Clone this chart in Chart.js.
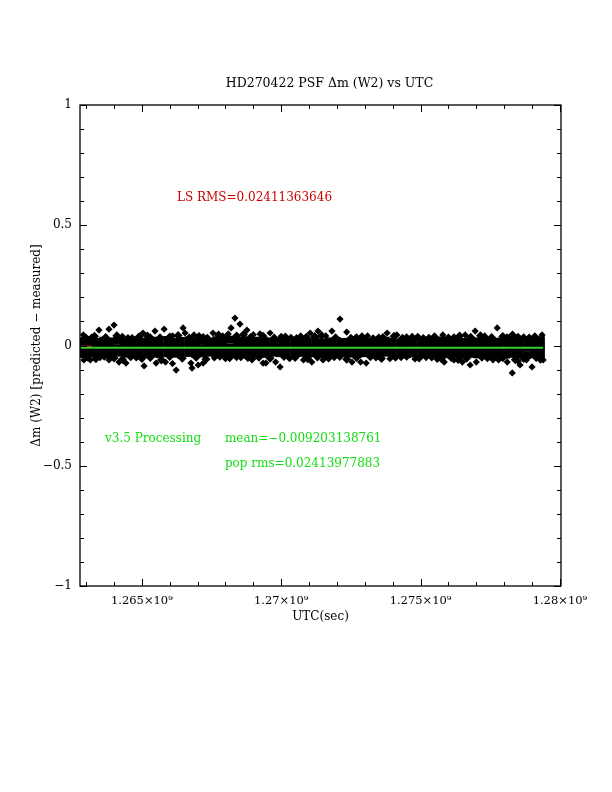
<!DOCTYPE html>
<html>
<head>
<title>HD270422 PSF dm (W2) vs UTC</title>
<style>
  html, body { margin: 0; padding: 0; background: #fff; }
</style>
</head>
<body>
<canvas id="chart" width="612" height="792"></canvas>
<script src="https://cdn.jsdelivr.net/npm/chart.js@4"></script>
<script>

// UTC values are in units of 1e6 seconds, dm in magnitudes

// dense band of points, sampled as three rows
const coreUtc = [
  1262.86, 1263.11, 1263.37, 1263.62, 1263.86, 1264.12, 1264.39, 1264.63, 1264.88, 1265.15, 1265.39,
  1265.64, 1265.91, 1266.15, 1266.40, 1266.67, 1266.91, 1267.16, 1267.43, 1267.67, 1267.92, 1268.19,
  1268.43, 1268.68, 1268.95, 1269.19, 1269.44, 1269.71, 1269.95, 1270.20, 1270.47, 1270.71, 1270.96,
  1271.23, 1271.47, 1271.72, 1271.99, 1272.23, 1272.48, 1272.75, 1272.99, 1273.24, 1273.51, 1273.75,
  1274.00, 1274.27, 1274.51, 1274.76, 1275.03, 1275.27, 1275.52, 1275.79, 1276.03, 1276.28, 1276.55,
  1276.79, 1277.04, 1277.31, 1277.55, 1277.80, 1278.07, 1278.31, 1278.56, 1278.83, 1279.07, 1279.32
];
const coreHigh = [
  0.018, 0.022, 0.015, 0.020, 0.017, 0.021, 0.014, 0.019, 0.022, 0.016, 0.020,
  0.018, 0.023, 0.015, 0.019, 0.021, 0.017, 0.020, 0.016, 0.022, 0.018, 0.024,
  0.019, 0.021, 0.016, 0.020, 0.018, 0.015, 0.019, 0.017, 0.014, 0.018, 0.016,
  0.020, 0.013, 0.017, 0.019, 0.015, 0.012, 0.016, 0.018, 0.014, 0.017, 0.020,
  0.015, 0.013, 0.016, 0.019, 0.017, 0.014, 0.018, 0.021, 0.016, 0.019, 0.015,
  0.020, 0.017, 0.022, 0.018, 0.016, 0.019, 0.021, 0.017, 0.020, 0.018, 0.022
];
const coreMid = [
  -0.007, -0.010, -0.006, -0.009, -0.008, -0.011, -0.007, -0.009, -0.006, -0.010, -0.008,
  -0.009, -0.007, -0.010, -0.008, -0.006, -0.009, -0.011, -0.008, -0.007, -0.010, -0.009,
  -0.006, -0.008, -0.010, -0.007, -0.009, -0.008, -0.011, -0.006, -0.009, -0.007, -0.010,
  -0.008, -0.009, -0.006, -0.010, -0.008, -0.007, -0.011, -0.009, -0.006, -0.008, -0.010,
  -0.007, -0.009, -0.008, -0.011, -0.006, -0.010, -0.008, -0.007, -0.009, -0.011, -0.008,
  -0.010, -0.007, -0.009, -0.008, -0.011, -0.006, -0.009, -0.010, -0.008, -0.007, -0.009
];
const coreLow = [
  -0.035, -0.031, -0.038, -0.033, -0.036, -0.030, -0.034, -0.037, -0.032, -0.035, -0.033,
  -0.036, -0.032, -0.034, -0.038, -0.031, -0.035, -0.033, -0.030, -0.036, -0.034, -0.032,
  -0.034, -0.037, -0.031, -0.033, -0.035, -0.030, -0.032, -0.036, -0.033, -0.031, -0.034,
  -0.032, -0.035, -0.030, -0.033, -0.031, -0.034, -0.036, -0.032, -0.035, -0.033, -0.030,
  -0.034, -0.031, -0.036, -0.033, -0.035, -0.032, -0.037, -0.034, -0.036, -0.033, -0.038,
  -0.035, -0.037, -0.034, -0.039, -0.036, -0.038, -0.035, -0.037, -0.040, -0.036, -0.038
];

// ragged upper and lower edges of the band
const edgeHighUtc = [
  1263.00, 1263.30, 1263.70, 1264.10, 1264.50, 1264.90, 1265.20, 1265.65, 1266.00, 1266.30, 1266.70,
  1267.05, 1267.35, 1267.75, 1268.05, 1268.40, 1268.65, 1268.90, 1269.35, 1269.75, 1270.15, 1270.55,
  1270.90, 1271.20, 1271.45, 1271.95, 1272.50, 1272.90, 1273.30, 1273.65, 1274.05, 1274.35, 1274.70,
  1275.10, 1275.50, 1276.00, 1276.40, 1276.80, 1277.15, 1277.55, 1277.95, 1278.30, 1278.70, 1279.10
];
const edgeHighDm = [
  0.030, 0.038, 0.033, 0.041, 0.029, 0.036, 0.040, 0.032, 0.035, 0.042, 0.031,
  0.037, 0.030, 0.044, 0.036, 0.040, 0.046, 0.033, 0.038, 0.031, 0.035, 0.029,
  0.034, 0.037, 0.042, 0.032, 0.030, 0.036, 0.028, 0.033, 0.038, 0.030, 0.034,
  0.029, 0.036, 0.031, 0.039, 0.034, 0.041, 0.033, 0.037, 0.044, 0.032, 0.036
];
const edgeLowUtc = [
  1263.05, 1263.35, 1263.65, 1264.00, 1264.30, 1264.60, 1265.00, 1265.30, 1265.70, 1266.00, 1266.45,
  1266.95, 1267.30, 1267.80, 1268.15, 1268.55, 1268.95, 1269.20, 1269.60, 1270.10, 1270.50, 1270.95,
  1271.30, 1271.70, 1272.10, 1272.35, 1272.70, 1273.20, 1273.60, 1274.10, 1274.50, 1274.95, 1275.40,
  1275.75, 1276.10, 1276.35, 1276.65, 1277.20, 1277.60, 1277.95, 1278.40, 1278.70, 1279.15, 1279.30
];
const edgeLowDm = [
  -0.048, -0.055, -0.045, -0.052, -0.058, -0.047, -0.054, -0.050, -0.060, -0.046, -0.053,
  -0.049, -0.057, -0.045, -0.051, -0.047, -0.056, -0.049, -0.053, -0.046, -0.050, -0.055,
  -0.048, -0.052, -0.046, -0.057, -0.050, -0.047, -0.054, -0.049, -0.045, -0.052, -0.048,
  -0.055, -0.050, -0.058, -0.053, -0.049, -0.056, -0.051, -0.059, -0.054, -0.050, -0.057
];

// scattered points above the band
const highUtc = [
  1262.90, 1263.20, 1263.46, 1263.82, 1264.00, 1264.30, 1264.65, 1265.04, 1265.30, 1265.47, 1265.80,
  1266.10, 1266.48, 1266.55, 1266.87, 1267.20, 1267.55, 1267.90, 1268.10, 1268.34, 1268.52, 1268.20,
  1268.77, 1269.00, 1269.24, 1269.60, 1270.00, 1270.35, 1270.70, 1271.04, 1271.32, 1271.60, 1271.82,
  1272.11, 1272.35, 1272.70, 1273.10, 1273.50, 1273.80, 1274.15, 1274.50, 1274.90, 1275.30, 1275.80,
  1276.20, 1276.60, 1276.96, 1277.30, 1277.75, 1278.10, 1278.50, 1278.90, 1279.36
];
const highDm = [
  0.044, 0.035, 0.064, 0.068, 0.085, 0.038, 0.033, 0.052, 0.036, 0.060, 0.068,
  0.040, 0.073, 0.052, 0.044, 0.037, 0.052, 0.040, 0.048, 0.114, 0.089, 0.073,
  0.064, 0.045, 0.048, 0.052, 0.038, 0.034, 0.040, 0.052, 0.060, 0.040, 0.060,
  0.110, 0.056, 0.036, 0.040, 0.035, 0.052, 0.044, 0.036, 0.038, 0.034, 0.044,
  0.036, 0.044, 0.060, 0.040, 0.073, 0.036, 0.038, 0.035, 0.044
];

// scattered points below the band
const lowUtc = [
  1262.92, 1263.15, 1263.50, 1263.82, 1264.18, 1264.43, 1264.80, 1265.08, 1265.51, 1265.85, 1266.10,
  1266.23, 1266.76, 1266.80, 1267.02, 1267.20, 1267.60, 1268.00, 1268.40, 1268.80, 1269.35, 1269.45,
  1269.80, 1269.96, 1270.30, 1270.80, 1271.10, 1271.50, 1271.90, 1272.54, 1272.85, 1273.05, 1273.40,
  1273.90, 1274.30, 1274.80, 1275.20, 1275.60, 1275.85, 1276.20, 1276.50, 1276.78, 1277.00, 1277.40,
  1277.80, 1278.11, 1278.29, 1278.57, 1278.50, 1278.80, 1279.00, 1279.40
];
const lowDm = [
  -0.060, -0.060, -0.050, -0.060, -0.069, -0.073, -0.052, -0.085, -0.073, -0.069, -0.075,
  -0.102, -0.073, -0.094, -0.081, -0.073, -0.052, -0.055, -0.050, -0.054, -0.073, -0.073,
  -0.069, -0.089, -0.055, -0.060, -0.069, -0.060, -0.050, -0.069, -0.069, -0.073, -0.052,
  -0.055, -0.050, -0.056, -0.050, -0.058, -0.069, -0.060, -0.069, -0.081, -0.069, -0.055,
  -0.060, -0.069, -0.114, -0.081, -0.065, -0.060, -0.089, -0.060
];

// fitted lines
const meanUtc = [1262.80, 1279.40];
const meanDm = [-0.009203138761, -0.009203138761];
const lsUtc = [1262.78, 1263.20];
const lsDm = [-0.005, -0.005];

// axes
const xRange = [1262.78, 1280.04];
const yRange = [-1, 1];
const xTickValues = [1265, 1270, 1275, 1280];
const xTickLabels = ['1.265\u00d710\u2079', '1.27\u00d710\u2079', '1.275\u00d710\u2079', '1.28\u00d710\u2079'];
const yTickValues = [-1, -0.5, 0, 0.5, 1];
const yTickLabels = ['\u22121', '\u22120.5', '0', '0.5', '1'];

// texts
const titleText = 'HD270422 PSF \u0394m (W2) vs UTC';
const xTitle = 'UTC(sec)';
const yTitle = '\u0394m (W2) [predicted \u2212 measured]';
const lsNote = { utc: 1266.26, dm: 0.613, text: 'LS RMS=0.02411363646' };
const greenNotes = [
  { utc: 1263.68, dm: -0.389, text: 'v3.5 Processing' },
  { utc: 1267.98, dm: -0.389, text: 'mean=\u22120.009203138761' },
  { utc: 1267.98, dm: -0.493, text: 'pop rms=0.02413977883' }
];

const FONT = '"DejaVu Serif", "Liberation Serif", serif';

function toPoints(ts, vs) {
  return ts.map(function(t, i) { return { x: t * 1e6, y: vs[i] }; });
}

const framePlugin = {
  id: 'frame',
  beforeDraw(chart) {
    const ctx = chart.ctx;
    ctx.save();
    ctx.fillStyle = '#fff';
    ctx.fillRect(0, 0, chart.width, chart.height);
    ctx.restore();
  },
  afterDatasetsDraw(chart) {
    const ctx = chart.ctx;
    const a = chart.chartArea;
    const x = chart.scales.x, y = chart.scales.y;
    ctx.save();
    ctx.strokeStyle = '#000';
    ctx.lineWidth = 1.3;
    ctx.strokeRect(a.left, a.top, a.right - a.left, a.bottom - a.top);

    ctx.lineWidth = 1;
    ctx.beginPath();
    for (let i = -10; i <= 10; i++) {
      const py = Math.round(y.getPixelForValue(i / 10)) + 0.5;
      const len = i % 5 === 0 ? 7 : 4;
      ctx.moveTo(a.left, py); ctx.lineTo(a.left + len, py);
      ctx.moveTo(a.right, py); ctx.lineTo(a.right - len, py);
    }
    for (let m = 1263; m <= 1280; m++) {
      const px = Math.round(x.getPixelForValue(m * 1e6)) + 0.5;
      const len = m % 5 === 0 ? 7 : 4;
      ctx.moveTo(px, a.bottom); ctx.lineTo(px, a.bottom - len);
      ctx.moveTo(px, a.top); ctx.lineTo(px, a.top + len);
    }
    ctx.stroke();

    // annotations
    ctx.textBaseline = 'middle';
    ctx.textAlign = 'left';
    ctx.font = '12px ' + FONT;
    ctx.fillStyle = '#cc0000';
    ctx.fillText(lsNote.text, x.getPixelForValue(lsNote.utc * 1e6), y.getPixelForValue(lsNote.dm));
    ctx.fillStyle = '#11dd11';
    for (const n of greenNotes) {
      ctx.fillText(n.text, x.getPixelForValue(n.utc * 1e6), y.getPixelForValue(n.dm));
    }

    // titles
    ctx.fillStyle = '#000';
    ctx.textAlign = 'center';
    ctx.font = '12.5px ' + FONT;
    ctx.fillText(titleText, (a.left + a.right) / 2 + 9, 84);
    ctx.font = '12px ' + FONT;
    ctx.fillText(xTitle, (a.left + a.right) / 2, 617);
    ctx.translate(37, (a.top + a.bottom) / 2);
    ctx.rotate(-Math.PI / 2);
    ctx.fillText(yTitle, 0, 0);
    ctx.restore();
  }
};

const ctx = document.getElementById('chart').getContext('2d');

const markStyle = { showLine: false, backgroundColor: '#000', borderColor: '#000', borderWidth: 0 };

new Chart(ctx, {
  type: 'scatter',
  data: {
    datasets: [
      Object.assign({ label: 'band high', data: toPoints(coreUtc, coreHigh), pointStyle: 'rect', pointRadius: 5.6, order: 3 }, markStyle),
      Object.assign({ label: 'band mid', data: toPoints(coreUtc, coreMid), pointStyle: 'rect', pointRadius: 5.6, order: 3 }, markStyle),
      Object.assign({ label: 'band low', data: toPoints(coreUtc, coreLow), pointStyle: 'rect', pointRadius: 5.6, order: 3 }, markStyle),
      Object.assign({ label: 'edge high', data: toPoints(edgeHighUtc, edgeHighDm), pointStyle: 'rectRot', pointRadius: 4.5, order: 2 }, markStyle),
      Object.assign({ label: 'edge low', data: toPoints(edgeLowUtc, edgeLowDm), pointStyle: 'rectRot', pointRadius: 4.5, order: 2 }, markStyle),
      Object.assign({ label: 'high', data: toPoints(highUtc, highDm), pointStyle: 'rectRot', pointRadius: 3.6, order: 2 }, markStyle),
      Object.assign({ label: 'low', data: toPoints(lowUtc, lowDm), pointStyle: 'rectRot', pointRadius: 3.6, order: 2 }, markStyle),
      {
        type: 'line', label: 'LS fit', data: toPoints(lsUtc, lsDm),
        borderColor: '#cc2222', borderWidth: 2, pointRadius: 0, fill: false, order: 1
      },
      {
        type: 'line', label: 'mean', data: toPoints(meanUtc, meanDm),
        borderColor: '#33cc33', borderWidth: 2, pointRadius: 0, fill: false, order: 0
      }
    ]
  },
  options: {
    responsive: false,
    animation: false,
    events: [],
    layout: { padding: { left: 0, top: 105, right: 51, bottom: 166 } },
    plugins: { legend: { display: false }, tooltip: { enabled: false } },
    datasets: { scatter: { clip: 0 }, line: { clip: 0 } },
    scales: {
      x: {
        type: 'linear',
        min: xRange[0] * 1e6,
        max: xRange[1] * 1e6,
        grid: { display: false, drawTicks: false },
        border: { display: false },
        afterFit(scale) { scale.height = 40; },
        afterBuildTicks(scale) { scale.ticks = xTickValues.map(function(v) { return { value: v * 1e6 }; }); },
        ticks: {
          padding: 8,
          maxRotation: 0,
          autoSkip: false,
          color: '#000',
          font: { family: FONT, size: 11.5 },
          callback: function(value, index) { return xTickLabels[index]; }
        }
      },
      y: {
        type: 'linear',
        min: yRange[0],
        max: yRange[1],
        grid: { display: false, drawTicks: false },
        border: { display: false },
        afterFit(scale) { scale.width = 80; },
        afterBuildTicks(scale) { scale.ticks = yTickValues.map(function(v) { return { value: v }; }); },
        ticks: {
          padding: 8,
          autoSkip: false,
          color: '#000',
          font: { family: FONT, size: 12 },
          callback: function(value, index) { return yTickLabels[index]; }
        }
      }
    }
  },
  plugins: [framePlugin]
});

</script>
</body>
</html>
